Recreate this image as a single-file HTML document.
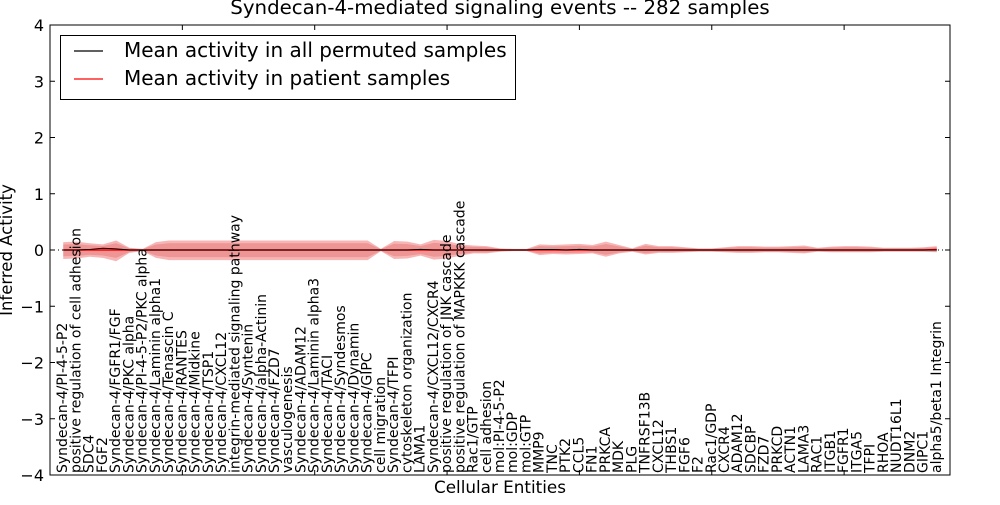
<!DOCTYPE html>
<html><head><meta charset="utf-8">
<style>
body{margin:0;background:#fff;}
svg text{font-family:"DejaVu Sans","Liberation Sans",sans-serif;}
</style></head>
<body>
<svg id="chart" width="1000" height="500" viewBox="0 0 1000 500" xmlns="http://www.w3.org/2000/svg">
<rect x="0" y="0" width="1000" height="500" fill="#fff"/>
<text x="500" y="14" text-anchor="middle" font-size="19.8">Syndecan-4-mediated signaling events -- 282 samples</text>
<g id="bands"></g>
<g id="lines"></g>
<rect x="50" y="25" width="900" height="450" fill="none" stroke="#000" stroke-width="1"/>
<g id="yaxis"></g>
<g id="xaxis"></g>
<text transform="translate(12,250) rotate(-90)" text-anchor="middle" font-size="16.5">Inferred Activity</text>
<text x="500" y="493" text-anchor="middle" font-size="16.8">Cellular Entities</text>
<g>
<rect x="60.5" y="35.5" width="455" height="64" fill="#fff" stroke="#000" stroke-width="1"/>
<line x1="74" y1="51" x2="103" y2="51" stroke="#000" stroke-width="1.2"/>
<text x="124" y="57" font-size="20">Mean activity in all permuted samples</text>
<line x1="74" y1="79" x2="103" y2="79" stroke="#f00" stroke-width="1.2"/>
<text x="124" y="85" font-size="20">Mean activity in patient samples</text>
</g>
</svg>
<script>
const categories = ["Syndecan-4/PI-4-5-P2","positive regulation of cell adhesion","SDC4","FGF2","Syndecan-4/FGFR1/FGF","Syndecan-4/PKC alpha","Syndecan-4/PI-4-5-P2/PKC alpha","Syndecan-4/Laminin alpha1","Syndecan-4/Tenascin C","Syndecan-4/RANTES","Syndecan-4/Midkine","Syndecan-4/TSP1","Syndecan-4/CXCL12","integrin-mediated signaling pathway","Syndecan-4/Syntenin","Syndecan-4/alpha-Actinin","Syndecan-4/FZD7","vasculogenesis","Syndecan-4/ADAM12","Syndecan-4/Laminin alpha3","Syndecan-4/TACI","Syndecan-4/Syndesmos","Syndecan-4/Dynamin","Syndecan-4/GIPC","cell migration","Syndecan-4/TFPI","cytoskeleton organization","LAMA1","Syndecan-4/CXCL12/CXCR4","positive regulation of JNK cascade","positive regulation of MAPKKK cascade","Rac1/GTP","cell adhesion","mol:PI-4-5-P2","mol:GDP","mol:GTP","MMP9","TNC","PTK2","CCL5","FN1","PRKCA","MDK","PLG","TNFRSF13B","CXCL12","THBS1","FGF6","F2","Rac1/GDP","CXCR4","ADAM12","SDCBP","FZD7","PRKCD","ACTN1","LAMA3","RAC1","ITGB1","FGFR1","ITGA5","TFPI","RHOA","NUDT16L1","DNM2","GIPC1","alpha5/beta1 Integrin"];
const patientMean = [0,0,0,0,0,0,0,0,0,0,0,0,0,0,0,0,0,0,0,0,0,0,0,0,0,0,0,0,0,0,0,0,0,0,0,0,0,0,0,0,0,0,0,0,0,0,0,0,0,0,0,0,0,0,0,0,0,0,0,0,0,0,0,0,0,0,0.01];
const permutedMean = [0,0,0.01,0.03,0.02,0,0,0,0,0,0,0,0,0,0,0,0,0,0,0,0,0,0,0,0,0,0,0.01,0,0,0,0,0,0,0,0,0.01,0.01,0,0.01,0,0,0,0,0,0,0,0,0,0,0,0,0,0,0,0,0,0,0,0,0,0,0,0,0,0,0];
const bandUpper = [0.14,0.15,0.12,0.1,0.17,0.04,0.02,0.14,0.17,0.17,0.17,0.17,0.17,0.17,0.17,0.17,0.17,0.17,0.17,0.17,0.17,0.17,0.17,0.17,0.02,0.16,0.15,0.1,0.18,0.16,0.1,0.08,0.07,0.03,0.02,0.02,0.1,0.09,0.1,0.11,0.09,0.15,0.09,0.03,0.11,0.07,0.07,0.05,0.03,0.03,0.05,0.07,0.07,0.06,0.06,0.07,0.08,0.04,0.06,0.07,0.07,0.06,0.04,0.04,0.04,0.05,0.07];
const bandLower = [-0.16,-0.15,-0.12,-0.14,-0.2,-0.05,-0.02,-0.14,-0.18,-0.18,-0.18,-0.18,-0.18,-0.18,-0.18,-0.18,-0.18,-0.18,-0.18,-0.18,-0.18,-0.18,-0.18,-0.18,-0.02,-0.16,-0.15,-0.1,-0.17,-0.15,-0.1,-0.06,-0.06,-0.03,-0.02,-0.02,-0.09,-0.07,-0.08,-0.07,-0.06,-0.12,-0.06,-0.03,-0.08,-0.05,-0.05,-0.04,-0.03,-0.03,-0.04,-0.05,-0.05,-0.04,-0.04,-0.05,-0.06,-0.03,-0.04,-0.04,-0.04,-0.04,-0.03,-0.03,-0.03,-0.03,-0.04];
const yTicks = [-4,-3,-2,-1,0,1,2,3,4];
const xTicks = [10,20,30,40,50,60];

const NS = "http://www.w3.org/2000/svg";
const L=50,R=950,T=25,B=475,XMIN=0,XMAX=68,YMIN=-4,YMAX=4;
function xs(i){return L+(i-XMIN)/(XMAX-XMIN)*(R-L);}
function ys(v){return B-(v-YMIN)/(YMAX-YMIN)*(B-T);}
function mk(tag,attrs,parent){const e=document.createElementNS(NS,tag);for(const k in attrs)e.setAttribute(k,attrs[k]);parent.appendChild(e);return e;}

const bands=document.getElementById('bands');
function bandPath(scale){
  let d='';
  bandUpper.forEach((v,i)=>{d+=(i?'L':'M')+xs(i+1)+','+ys(v*scale);});
  for(let i=bandLower.length-1;i>=0;i--){d+='L'+xs(i+1)+','+ys(bandLower[i]*scale);}
  return d+'Z';
}
const outer=mk('path',{d:bandPath(1),fill:'rgba(240,120,120,0.55)',stroke:'none'},bands);


const inner=mk('path',{d:bandPath(0.7),fill:'rgba(220,90,90,0.35)',stroke:'none'},bands);



const lines=document.getElementById('lines');
const zl=mk('line',{x1:L,x2:R,y1:ys(0),y2:ys(0),stroke:'#000','stroke-width':1,'stroke-dasharray':'1,3'},lines);


function linePath(arr){return arr.map((v,i)=>(i?'L':'M')+xs(i+1)+','+ys(v)).join('');}
const pl=mk('path',{d:linePath(patientMean),fill:'none',stroke:'#f00','stroke-width':1.5},lines);


const bl=mk('path',{d:linePath(permutedMean),fill:'none',stroke:'#000','stroke-width':1},lines);



const ya=document.getElementById('yaxis');
yTicks.forEach(v=>{
  const y=ys(v);
  const t1=mk('line',{x1:L,x2:L+5,y1:y,y2:y,stroke:'#000'},ya);
  
  
  const t2=mk('line',{x1:R-5,x2:R,y1:y,y2:y,stroke:'#000'},ya);
  
  
  const tx=mk('text',{x:44,y:y+6,'text-anchor':'end','font-size':16},ya);
  tx.textContent=(v<0?'\u2212'+(-v):String(v));
  
  
});

const xa=document.getElementById('xaxis');
xTicks.forEach(v=>{
  const x=xs(v);
  const t=mk('line',{x1:x,x2:x,y1:T,y2:T+5,stroke:'#000'},xa);
  
  
  const b=mk('line',{x1:x,x2:x,y1:B-5,y2:B,stroke:'#000'},xa);
  
  
});
categories.forEach((c,i)=>{
  const x=xs(i+1);
  const tx=mk('text',{transform:'translate('+(x+4)+','+(B-2)+') rotate(-90)','font-size':14},xa);
  tx.textContent=c;
  
  
});
</script>
</body></html>
